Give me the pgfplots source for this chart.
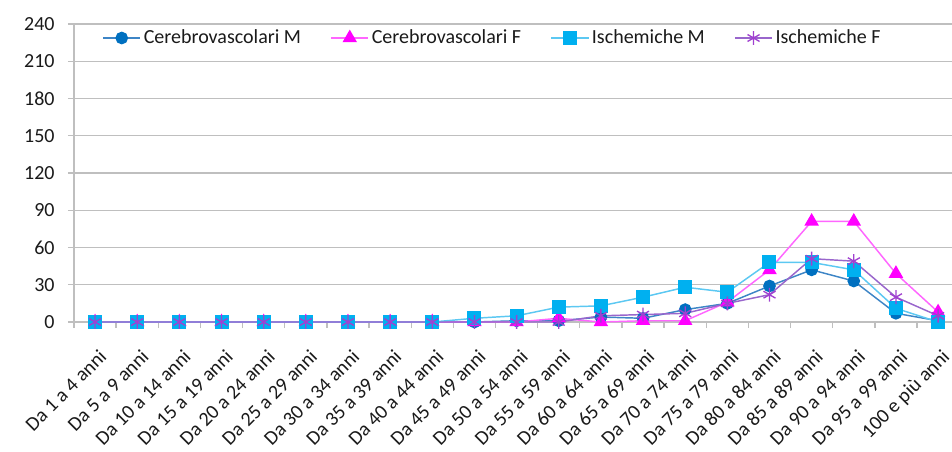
\documentclass[border=0pt]{standalone}
\usepackage{pgfplots}
\pgfplotsset{compat=1.18}
\usepackage{fontspec}
\setmainfont{Carlito}
\definecolor{cmM}{HTML}{0070C0}
\definecolor{cmL}{HTML}{3D85C6}
\definecolor{cfM}{HTML}{FF00FF}
\definecolor{cfL}{HTML}{FF66FF}
\definecolor{imM}{HTML}{00B0F0}
\definecolor{imL}{HTML}{5CC8F2}
\definecolor{ifM}{HTML}{A040D0}
\definecolor{ifL}{HTML}{9966CC}
\definecolor{gridc}{HTML}{BFBFBF}
\definecolor{txt}{HTML}{1A1A1A}
\newcommand{\lblfont}{\fontsize{15}{18}\selectfont}
\begin{document}
\begin{tikzpicture}
\begin{axis}[
  at={(0,0)}, anchor=south west,
  scale only axis, width=658.5pt, height=223.5pt,
  xmin=-0.5, xmax=20.33, ymin=0, ymax=240,
  clip=false,
  axis x line*=bottom, axis y line*=left,
  axis line style={draw=gridc, line width=1pt, -},
  ytick={0,30,...,240},
  ymajorgrids, grid style={gridc, line width=1.1pt},
  xtick={0,...,20},
  xticklabels={Da 1 a 4 anni, Da 5 a 9 anni, Da 10 a 14 anni, Da 15 a 19 anni, Da 20 a 24 anni, Da 25 a 29 anni, Da 30 a 34 anni, Da 35 a 39 anni, Da 40 a 44 anni, Da 45 a 49 anni, Da 50 a 54 anni, Da 55 a 59 anni, Da 60 a 64 anni, Da 65 a 69 anni, Da 70 a 74 anni, Da 75 a 79 anni, Da 80 a 84 anni, Da 85 a 89 anni, Da 90 a 94 anni, Da 95 a 99 anni, 100 e più anni},
  major x tick style={draw=none},
  minor xtick={-0.5,0.5,...,19.5},
  minor x tick style={draw=gridc, line width=1pt},
  major y tick style={draw=gridc, line width=1pt},
  tick align=outside, major tick length=4.5pt, minor tick length=4.5pt,
  xticklabel style={font=\lblfont, text=txt, rotate=45, anchor=north east, inner sep=0pt, xshift=-9pt, yshift=-12pt},
  yticklabel style={font=\lblfont, text=txt, xshift=-6.5pt},
  /pgf/number format/assume math mode=true,
  legend columns=4,
  legend style={at={(0.477,0.953)}, anchor=center, draw=none, fill=none,
    font=\lblfont, text=txt,
    /tikz/every even column/.append style={column sep=20pt},
    /tikz/every odd column/.append style={column sep=0pt}},
  legend cell align=left,
  legend image code/.code={\draw[mark repeat=2,mark phase=2,#1] plot coordinates {(0pt,0pt)(14pt,0pt)(28pt,0pt)};},
]
\addplot[color=cmL, line width=1.1pt, mark=*, mark size=4.2pt, mark options={fill=cmM, draw=cmM}]
 coordinates {(0,0)(1,0)(2,0)(3,0)(4,0)(5,0)(6,0)(7,0)(8,0)(9,0)(10,1)(11,1)(12,4)(13,3)(14,10)(15,15)(16,29)(17,42)(18,33)(19,7)(20,1)};
\addlegendentry{Cerebrovascolari M}
\addplot[color=cfL, line width=1.1pt, mark=triangle*, mark size=5.2pt, mark options={fill=cfM, draw=cfM}]
 coordinates {(0,0)(1,0)(2,0)(3,0)(4,0)(5,0)(6,0)(7,0)(8,0)(9,0)(10,0)(11,3)(12,0)(13,1)(14,1)(15,16)(16,42)(17,81)(18,81)(19,39)(20,8)};
\addlegendentry{Cerebrovascolari F}
\addplot[color=imL, line width=1.1pt, mark=square*, mark size=4.7pt, mark options={fill=imM, draw=imM}]
 coordinates {(0,0)(1,0)(2,0)(3,0)(4,0)(5,0)(6,0)(7,0)(8,0)(9,3)(10,5)(11,12)(12,13)(13,20)(14,28)(15,24)(16,48)(17,48)(18,42)(19,11)(20,0)};
\addlegendentry{Ischemiche M}
\addplot[color=ifL, line width=1.1pt, mark=asterisk, mark size=5.2pt, mark options={draw=ifM, line width=1pt}]
 coordinates {(0,0)(1,0)(2,0)(3,0)(4,0)(5,0)(6,0)(7,0)(8,0)(9,0)(10,0)(11,0)(12,5)(13,6)(14,7)(15,15)(16,22)(17,51)(18,49)(19,20)(20,5)};
\addlegendentry{Ischemiche F}
\end{axis}
\pgfresetboundingbox
\useasboundingbox (-55.5pt,-96.75pt) rectangle (658.5pt,241.5pt);
\end{tikzpicture}
\end{document}
